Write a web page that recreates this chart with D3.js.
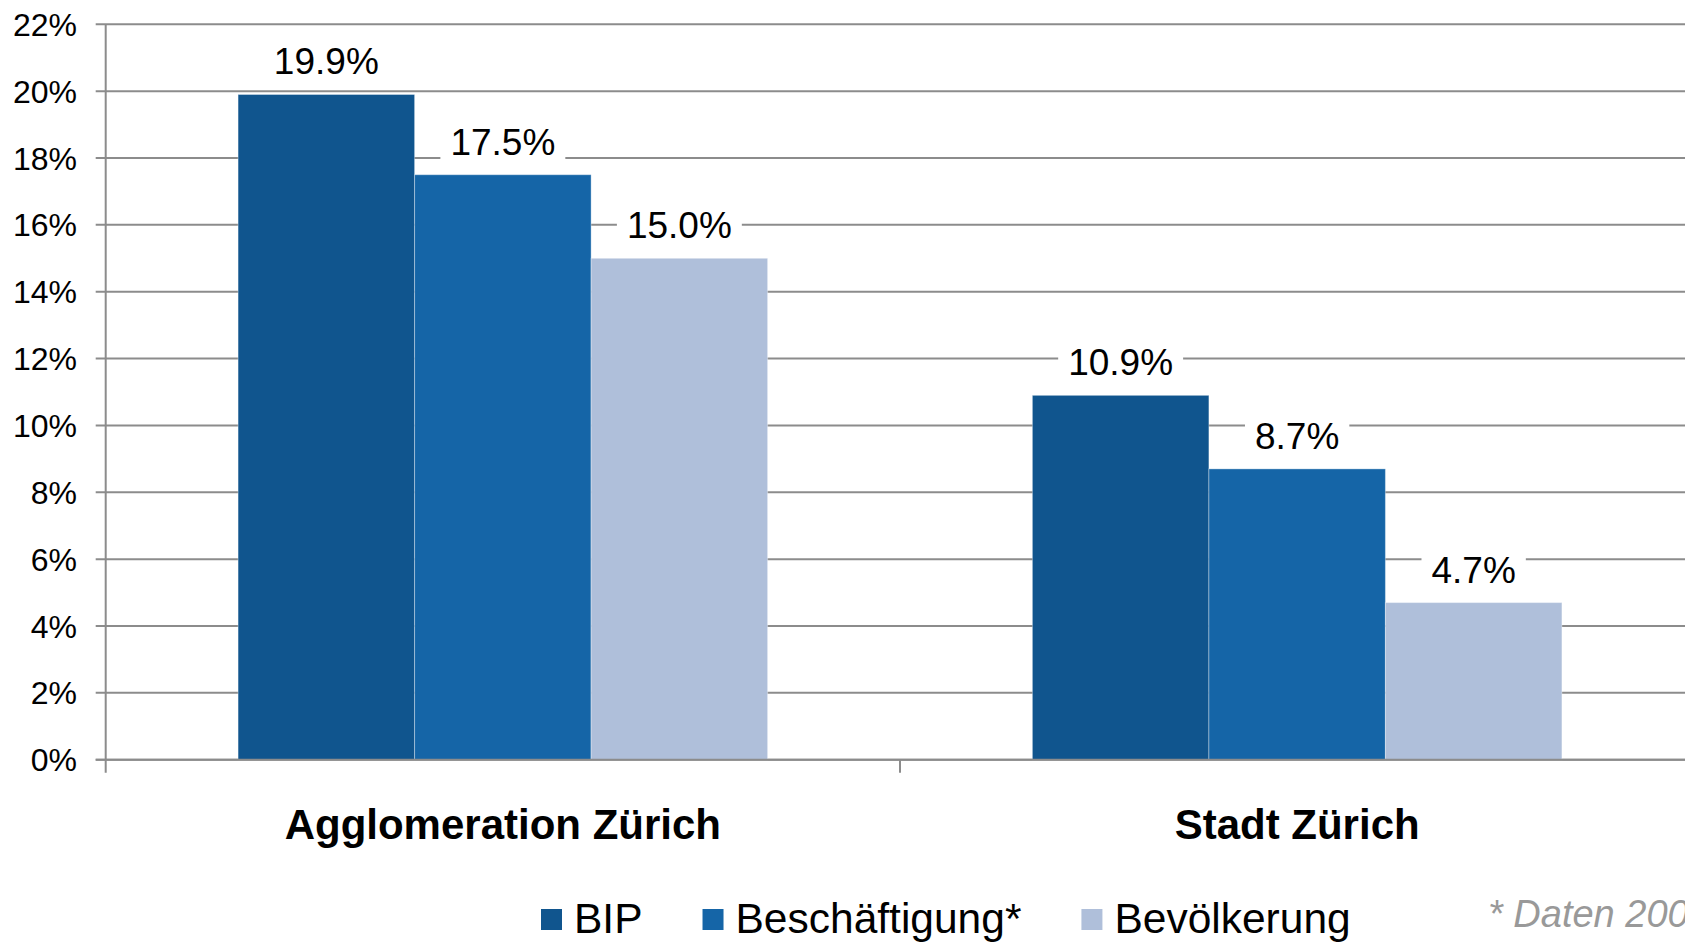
<!DOCTYPE html>
<html>
<head>
<meta charset="utf-8">
<script src="https://cdn.jsdelivr.net/npm/d3@7"></script>
<style>
  html, body { margin: 0; padding: 0; background: #fff; overflow: hidden; }
  svg { display: block; font-family: "Liberation Sans", Arial, sans-serif; }
</style>
</head>
<body>
<div id="chart"></div>
<script>
// chart values
var categories = ["Agglomeration Zürich", "Stadt Zürich"];
var seriesNames = ["BIP", "Beschäftigung*", "Bevölkerung"];
var bip = [0.199, 0.109];
var beschaeftigung = [0.175, 0.087];
var bevoelkerung = [0.150, 0.047];
var yTicks = [0, 0.02, 0.04, 0.06, 0.08, 0.10, 0.12, 0.14, 0.16, 0.18, 0.20, 0.22];
var footnote = "* Daten 2008";

var colors = ["#10558e", "#1565a7", "#afbfda"];

var width = 1685, height = 942;
var margin = { top: 24.3, left: 105.7, bottom: 942 - 759.7 };
var plotRight = 1694.3;

var svg = d3.select("#chart")
  .append("svg")
    .attr("width", width)
    .attr("height", height);

var y = d3.scaleLinear()
  .domain([0, 0.22])
  .range([height - margin.bottom, margin.top]);

var x0 = d3.scaleBand()
  .domain(categories)
  .range([margin.left, plotRight])
  .paddingInner(0)
  .paddingOuter(0);

var x1 = d3.scaleBand()
  .domain(seriesNames)
  .range([0, x0.bandwidth()])
  .paddingInner(0)
  .paddingOuter(0.75);

var color = d3.scaleOrdinal().domain(seriesNames).range(colors);

var gridColor = "#8c8c8c";

// gridlines + left ticks
svg.append("g")
  .selectAll("line")
  .data(yTicks)
  .join("line")
    .attr("x1", margin.left - 10)
    .attr("x2", plotRight)
    .attr("y1", d => y(d))
    .attr("y2", d => y(d))
    .attr("stroke", gridColor)
    .attr("stroke-width", 2);

// y tick labels
svg.append("g")
  .selectAll("text")
  .data(yTicks)
  .join("text")
    .attr("x", 77)
    .attr("y", d => y(d))
    .attr("dy", "0.36em")
    .attr("text-anchor", "end")
    .attr("font-size", 32)
    .attr("fill", "#000")
    .text(d3.format(".0%"));

// axis lines
svg.append("line")
  .attr("x1", margin.left).attr("x2", margin.left)
  .attr("y1", y(0.22)).attr("y2", y(0) + 13)
  .attr("stroke", gridColor).attr("stroke-width", 2);

svg.append("g")
  .selectAll("line")
  .data(categories.slice(1))
  .join("line")
    .attr("x1", d => x0(d)).attr("x2", d => x0(d))
    .attr("y1", y(0)).attr("y2", y(0) + 13)
    .attr("stroke", gridColor).attr("stroke-width", 2);

// bars
var rows = categories.map((c, i) => ({
  cat: c,
  values: [
    { key: seriesNames[0], value: bip[i] },
    { key: seriesNames[1], value: beschaeftigung[i] },
    { key: seriesNames[2], value: bevoelkerung[i] }
  ]
}));

var groups = svg.append("g")
  .selectAll("g")
  .data(rows)
  .join("g")
    .attr("transform", d => "translate(" + x0(d.cat) + ",0)");

groups.selectAll("rect")
  .data(d => d.values)
  .join("rect")
    .attr("x", d => x1(d.key))
    .attr("y", d => y(d.value))
    .attr("width", x1.bandwidth())
    .attr("height", d => y(0) - y(d.value))
    .attr("fill", d => color(d.key))
    .attr("stroke", "rgba(255,255,255,0.35)")
    .attr("stroke-width", 1);

// baseline on top of bars
svg.append("line")
  .attr("x1", margin.left - 10).attr("x2", plotRight)
  .attr("y1", y(0)).attr("y2", y(0))
  .attr("stroke", gridColor).attr("stroke-width", 2);

// value labels with white boxes
groups.each(function (row) {
  var g = d3.select(this);
  row.values.forEach(function (d) {
    var lg = g.append("g");
    var t = lg.append("text")
      .attr("x", x1(d.key) + x1.bandwidth() / 2)
      .attr("y", y(d.value) - 20)
      .attr("text-anchor", "middle")
      .attr("font-size", 37)
      .attr("fill", "#000")
      .text(d3.format(".1%")(d.value));
    var bb = t.node().getBBox();
    lg.insert("rect", "text")
      .attr("x", bb.x - 10)
      .attr("y", bb.y + 2)
      .attr("width", bb.width + 20)
      .attr("height", bb.height - 4)
      .attr("fill", "#fff");
  });
});

// category labels
svg.append("g")
  .selectAll("text")
  .data(categories)
  .join("text")
    .attr("x", d => x0(d) + x0.bandwidth() / 2)
    .attr("y", 839)
    .attr("text-anchor", "middle")
    .attr("font-size", 42)
    .attr("font-weight", "bold")
    .attr("fill", "#000")
    .text(d => d);

// legend
var legend = svg.append("g");
var lx = 541;
seriesNames.forEach(function (name) {
  legend.append("rect")
    .attr("x", lx)
    .attr("y", 909)
    .attr("width", 21)
    .attr("height", 21)
    .attr("fill", color(name));
  var t = legend.append("text")
    .attr("x", lx + 33)
    .attr("y", 933)
    .attr("font-size", 42.5)
    .attr("fill", "#000")
    .text(name);
  lx += 33 + t.node().getComputedTextLength() + 60;
});

// footnote
svg.append("text")
  .attr("x", 1488)
  .attr("y", 927)
  .attr("font-size", 38)
  .attr("font-style", "italic")
  .attr("fill", "#999")
  .text(footnote);
</script>
</body>
</html>
